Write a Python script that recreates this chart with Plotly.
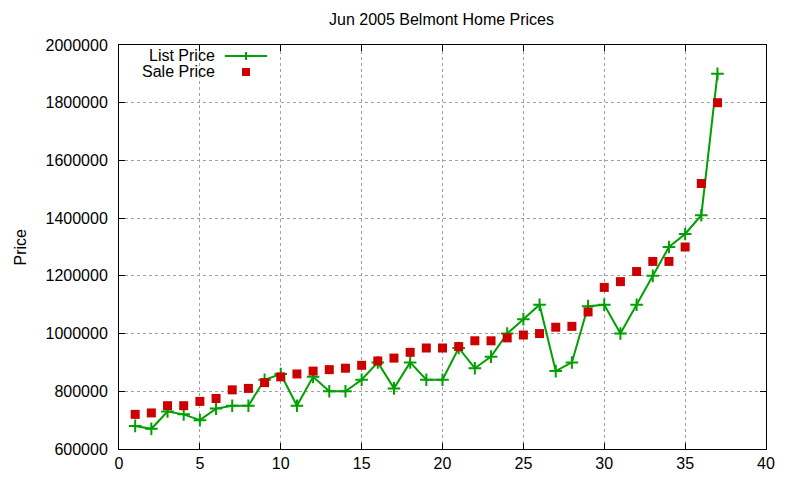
import plotly.graph_objects as go

x_vals = list(range(1, 38))
list_price = [680000, 670000, 730000, 720000, 700000, 740000, 750000, 750000, 840000, 860000,
              750000, 850000, 800000, 800000, 840000, 900000, 810000, 900000, 840000, 840000,
              950000, 880000, 920000, 1000000, 1050000, 1100000, 870000, 900000, 1095000, 1100000,
              1000000, 1100000, 1200000, 1300000, 1345000, 1410000, 1900000]
sale_price = [720000, 725000, 750000, 750000, 765000, 775000, 805000, 810000, 830000, 850000,
              860000, 870000, 875000, 880000, 890000, 905000, 915000, 935000, 950000, 950000,
              955000, 975000, 975000, 985000, 995000, 1000000, 1022000, 1025000, 1075000, 1160000,
              1180000, 1215000, 1250000, 1250000, 1300000, 1520000, 1800000]

GREEN = "#00a000"
RED = "#cc0000"
FONT = "Liberation Sans"
FS = 16

# page offset (browser body margin)
OFF = 8
W, H = 800, 480
# plot area in reference page pixels
PL, PR, PT, PB = 119, 766, 45, 449
L = PL - OFF
T = PT - OFF
R = W - (PR - OFF)
B = H - (PB - OFF)
pw = PR - PL
ph = PB - PT

def px(xp):
    return (xp - PL) / pw

def py(yp):
    return 1 - (yp - PT) / ph

fig = go.Figure()
fig.add_trace(go.Scatter(x=x_vals, y=list_price, mode="lines+markers", name="List Price",
                         line=dict(color=GREEN, width=2),
                         marker=dict(symbol="cross-thin", size=9, line=dict(color=GREEN, width=2))))
fig.add_trace(go.Scatter(x=x_vals, y=sale_price, mode="markers", name="Sale Price",
                         marker=dict(symbol="square", size=9, color=RED)))

axis_common = dict(showline=True, linecolor="black", linewidth=1, mirror="allticks",
                   ticks="inside", ticklen=6, tickcolor="black", zeroline=False,
                   showgrid=True, gridcolor="#a0a0a0", griddash="dot", gridwidth=1,
                   tickfont=dict(family=FONT, size=FS, color="black"))

fig.update_xaxes(range=[0, 40], tickmode="array", tickvals=list(range(0, 41, 5)), **axis_common)
fig.update_yaxes(range=[600000, 2000000], tickmode="array",
                 tickvals=list(range(600000, 2000001, 200000)), tickformat="d",
                 ticklabelstandoff=7, **axis_common)

annotations = [
    dict(text="Jun 2005 Belmont Home Prices", xref="paper", yref="paper", x=px(441), y=py(20),
         xanchor="center", yanchor="middle", showarrow=False, font=dict(family=FONT, size=FS, color="black")),
    dict(text="Price", xref="paper", yref="paper", x=px(OFF + 1), y=py(247), textangle=-90,
         xanchor="left", yanchor="middle", showarrow=False, font=dict(family=FONT, size=FS, color="black")),
    dict(text="List Price", xref="paper", yref="paper", x=px(217), y=py(55),
         xanchor="right", yanchor="middle", showarrow=False, font=dict(family=FONT, size=FS, color="black")),
    dict(text="Sale Price", xref="paper", yref="paper", x=px(217), y=py(71),
         xanchor="right", yanchor="middle", showarrow=False, font=dict(family=FONT, size=FS, color="black")),
]

shapes = [
    dict(type="line", xref="paper", yref="paper", x0=px(225), x1=px(267), y0=py(56), y1=py(56),
         line=dict(color=GREEN, width=2)),
    dict(type="line", xref="paper", yref="paper", x0=px(246), x1=px(246), y0=py(52), y1=py(60),
         line=dict(color=GREEN, width=2)),
    dict(type="rect", xref="paper", yref="paper", x0=px(242), x1=px(250), y0=py(68), y1=py(76),
         fillcolor=RED, line=dict(width=0)),
]

fig.update_layout(width=W, height=H, margin=dict(l=L, r=R, t=T, b=B),
                  paper_bgcolor="white", plot_bgcolor="white", showlegend=False,
                  annotations=annotations, shapes=shapes,
                  font=dict(family=FONT, size=FS, color="black"))

fig.write_html("out.html")
